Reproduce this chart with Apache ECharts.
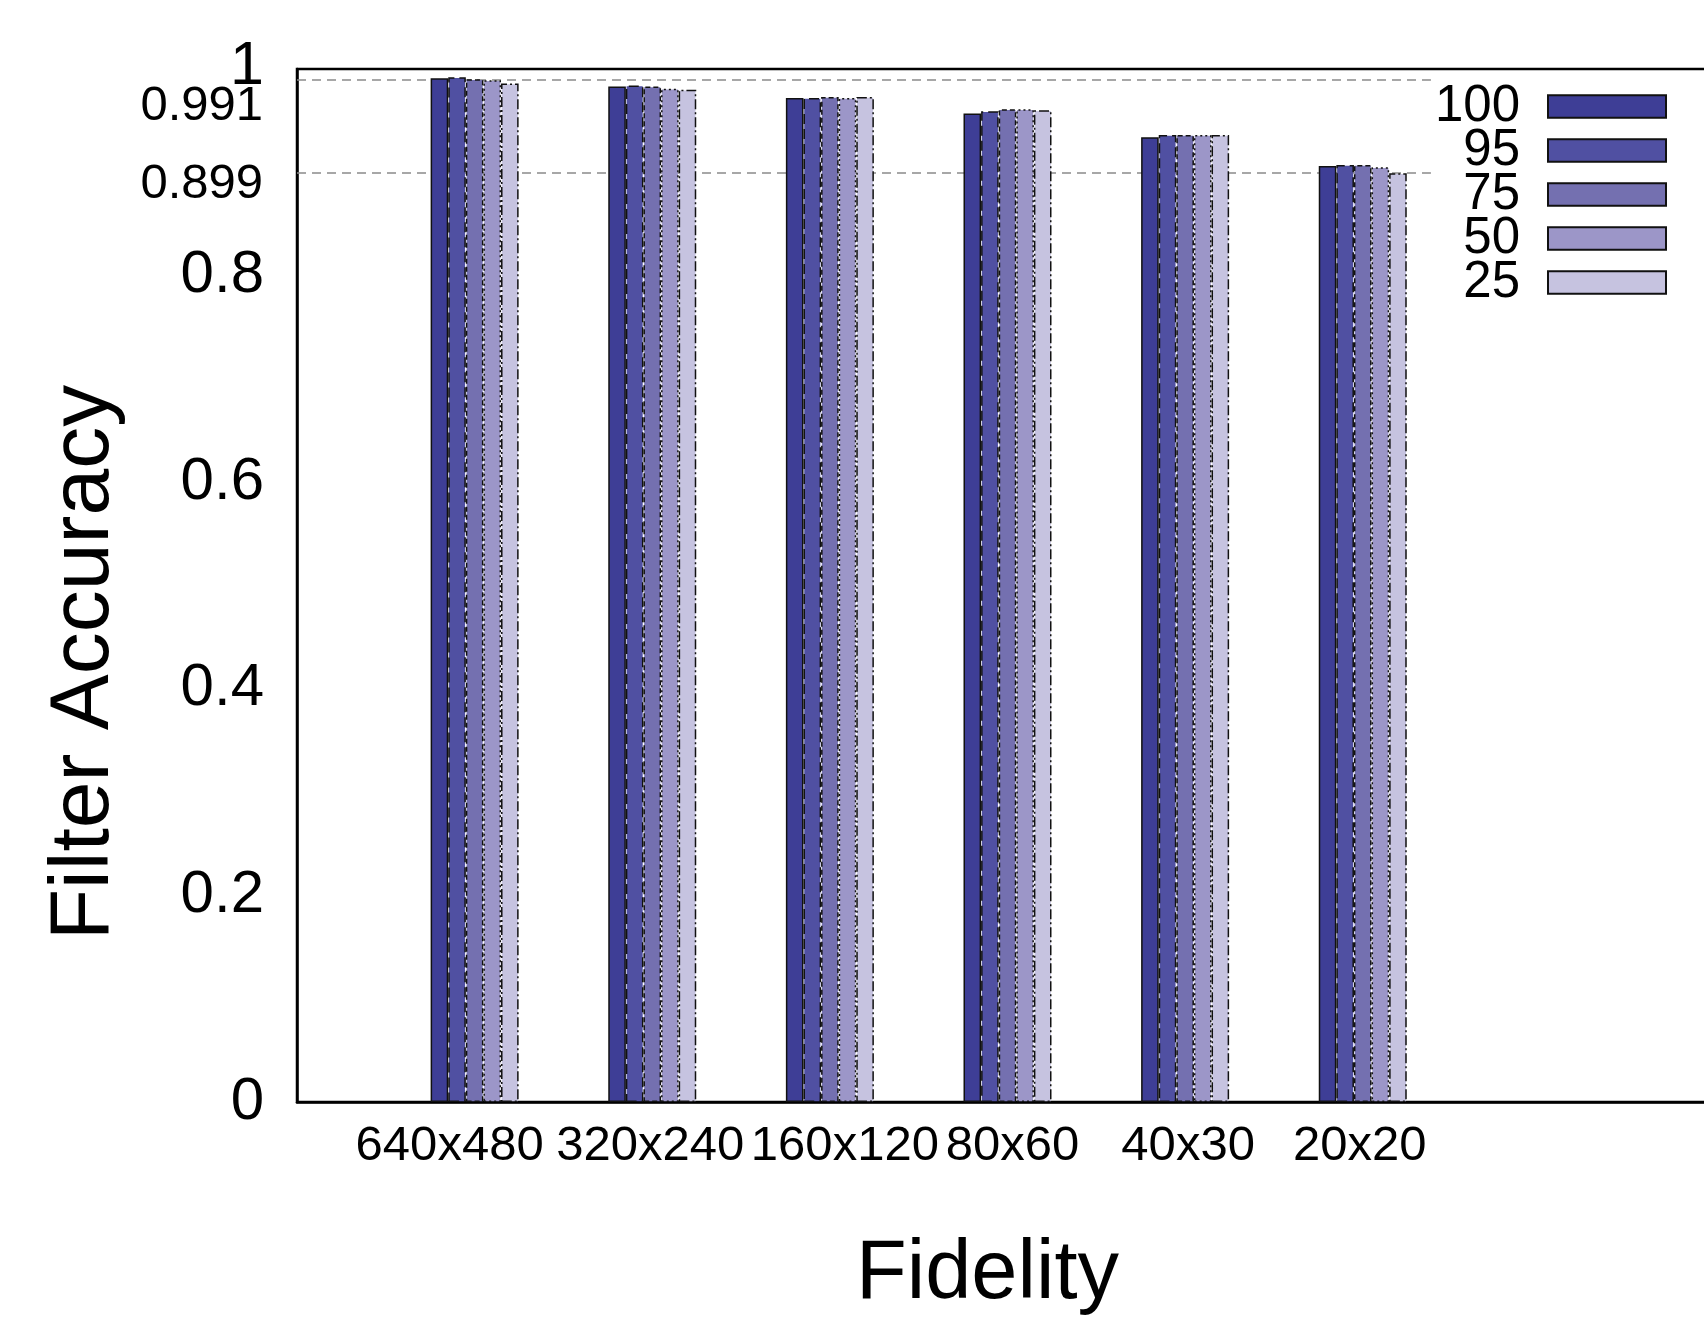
<!DOCTYPE html>
<html>
<head>
<meta charset="utf-8">
<script src="https://cdn.jsdelivr.net/npm/echarts@6/dist/echarts.min.js"></script>
<style>
html,body{margin:0;padding:0;background:#fff;}
#chart{width:1704px;height:1317px;}
</style>
</head>
<body>
<div id="chart"></div>
<script>
const categories = ['640x480', '320x240', '160x120', '80x60', '40x30', '20x20'];
const seriesNames = ['100', '95', '75', '50', '25'];
const s100 = [0.991, 0.983, 0.972, 0.957, 0.934, 0.906];
const s95  = [0.992, 0.984, 0.972, 0.959, 0.936, 0.907];
const s75  = [0.990, 0.983, 0.973, 0.961, 0.936, 0.907];
const s50  = [0.989, 0.981, 0.972, 0.961, 0.936, 0.905];
const s25  = [0.986, 0.980, 0.973, 0.960, 0.936, 0.899];
const refLines = [0.991, 0.899];

const seriesValues = [s100, s95, s75, s50, s25];
const colors = ['#3e3e96', '#5050a2', '#7470b0', '#9c96c8', '#c6c3e0'];
const borderTypes = ['solid', [10, 5], [5, 3], [2, 3], [10, 3, 2, 3]];
const FONT = "'Liberation Sans', Arial, sans-serif";

// label nudges (styling only)
const xLabelShift = [-25, -2, 15, 5, 3, -3];
const refLabelShift = [55, 24];

// pad categories: one empty slot before, two after (gnuplot x range)
const axisCats = [''].concat(categories.map((c, i) => {
  const d = xLabelShift[i];
  return { value: c, textStyle: { padding: d < 0 ? [0, -2 * d, 0, 0] : [0, 0, 0, 2 * d] } };
}), ['', '']);
function pad(arr) { return [null].concat(arr, [null, null]); }

const refRich = {};
refLabelShift.forEach((d, k) => {
  refRich['r' + k] = { fontSize: 49, color: '#000', fontFamily: FONT, padding: [d, 0, 0, 0] };
});

const series = seriesNames.map((name, i) => {
  const s = {
    name: name,
    type: 'bar',
    data: pad(seriesValues[i]),
    barWidth: 17.6,
    barGap: '0%',
    z: 2,
    itemStyle: {
      color: colors[i],
      borderColor: '#111',
      borderWidth: 1.5,
      borderType: borderTypes[i]
    }
  };
  if (i === 0) {
    s.markLine = {
      silent: true,
      z: 1,
      symbol: ['none', 'none'],
      animation: false,
      lineStyle: { color: '#8a8a8a', type: [9, 6], width: 1.5 },
      data: refLines.map((v, k) => ({
        yAxis: v,
        label: {
          show: true,
          position: 'start',
          distance: 34,
          formatter: '{r' + k + '|' + String(v) + '}',
          rich: refRich
        }
      }))
    };
  }
  return s;
});

const chart = echarts.init(document.getElementById('chart'), null, { renderer: 'canvas' });
chart.setOption({
  backgroundColor: '#fff',
  animation: false,
  grid: {
    left: 297, top: 69, width: 1421, height: 1033,
    outerBoundsMode: 'none',
    containLabel: false,
    show: true, borderColor: '#000', borderWidth: 2.5, backgroundColor: 'transparent'
  },
  legend: {
    data: seriesNames,
    orient: 'vertical',
    align: 'right',
    right: 0,
    top: 75,
    padding: [6, 37, 20, 4],
    backgroundColor: '#fff',
    icon: 'rect',
    itemWidth: 118,
    itemHeight: 22.5,
    itemGap: -7,
    textStyle: {
      fontSize: 51,
      color: '#000',
      fontFamily: FONT,
      padding: [0, 23, 0, 0]
    }
  },
  xAxis: {
    type: 'category',
    data: axisCats,
    boundaryGap: false,
    name: 'Fidelity',
    nameLocation: 'middle',
    nameGap: 132,
    nameTextStyle: {
      fontSize: 83, color: '#000',
      fontFamily: FONT,
      padding: [0, 40, 0, 0]
    },
    axisLine: { show: true, lineStyle: { color: '#000', width: 2.5 } },
    axisTick: { show: false },
    splitLine: { show: false },
    axisLabel: {
      interval: 0,
      margin: 20,
      fontSize: 49,
      color: '#000',
      fontFamily: FONT
    }
  },
  yAxis: {
    type: 'value',
    min: 0, max: 1, interval: 0.2,
    name: 'Filter Accuracy',
    nameLocation: 'middle',
    nameGap: 170,
    nameTextStyle: {
      fontSize: 84, color: '#000',
      fontFamily: FONT,
      padding: [0, 154, 0, 0]
    },
    axisLine: { show: true, lineStyle: { color: '#000', width: 2.5 } },
    axisTick: { show: false },
    splitLine: { show: false },
    axisLabel: {
      margin: 33,
      fontSize: 60,
      color: '#000',
      fontFamily: FONT,
      formatter: function (v) { return v === 1 ? '{up|1}' : String(v); },
      rich: { up: { fontSize: 61, padding: [0, 0, 4, 0], fontFamily: FONT, color: '#000' } }
    }
  },
  series: series
});
</script>
</body>
</html>
